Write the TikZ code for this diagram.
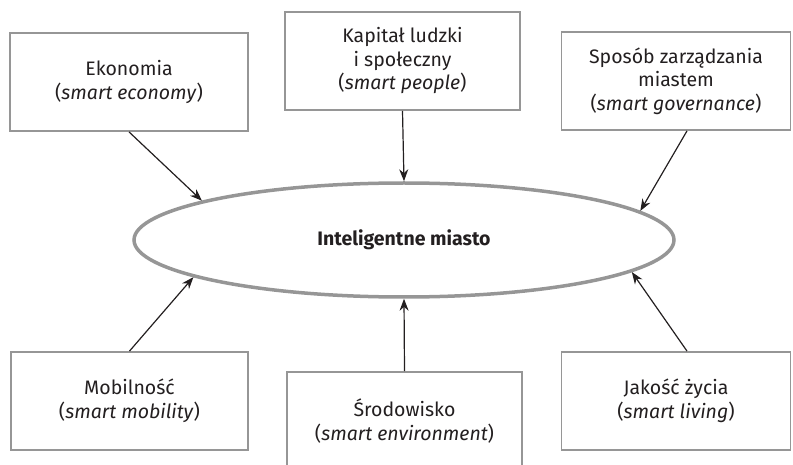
\documentclass[tikz,border=0pt]{standalone}
\usepackage{fontspec}
\setmainfont{Fira Sans}
\usetikzlibrary{arrows.meta,shapes.geometric}

\definecolor{frame}{RGB}{150,150,150}
\definecolor{ink}{RGB}{35,31,32}

\begin{document}
\begin{tikzpicture}[x=1pt,y=-1pt,
  area/.style={draw=frame,line width=1.8pt,fill=white,inner sep=0pt,
    minimum height=98pt,align=center,text=ink,
    font=\fontsize{19.5}{23.5}\selectfont},
  feed/.style={draw=ink,line width=1.2pt,-{Stealth[length=12pt,width=9pt]}}]

\useasboundingbox (0,0) rectangle (793,465);
\clip (0,0) rectangle (793,465);

\node[ellipse,draw=frame,line width=3.5pt,minimum width=540pt,minimum height=114pt,
  inner sep=0pt,text=ink,font=\fontsize{19.5}{23.5}\selectfont\bfseries]
  (tCity) at (404,240) {Inteligentne miasto};

\node[area,minimum width=238pt] (tEko) at (129,82)
  {Ekonomia\\(\textit{smart economy})};
\node[area,minimum width=235pt] (tPeople) at (402.5,61)
  {Kapitał ludzki\\i społeczny\\(\textit{smart people})};
\node[area,minimum width=229pt] (tGov) at (676,81)
  {Sposób zarządzania\\miastem\\(\textit{smart governance})};

\node[area,minimum width=237pt] (tMob) at (129.5,401)
  {Mobilność\\(\textit{smart mobility})};
\node[area,minimum width=235pt] (tEnv) at (404.5,421)
  {Środowisko\\(\textit{smart environment})};
\node[area,minimum width=229pt] (tLiv) at (676,401)
  {Jakość życia\\(\textit{smart living})};

% arrows into the city
\draw[feed] (tEko.south) -- (tCity.169.5);
\draw[feed] (tPeople.south) -- (tCity.north);
\draw[feed] ([xshift=11pt]tGov.south) -- (tCity.7.5);
\draw[feed] (tMob.north) -- (tCity.190.5);
\draw[feed] (tEnv.north) -- (tCity.south);
\draw[feed] ([xshift=11pt]tLiv.north) -- (tCity.352.5);

\end{tikzpicture}
\end{document}
